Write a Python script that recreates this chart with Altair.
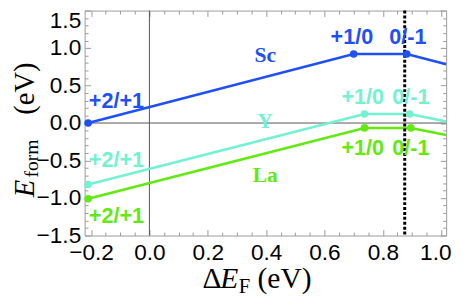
import altair as alt
import pandas as pd

# ---------------- data ----------------
x_domain = [-0.222, 1.017]
y_domain = [-1.5, 1.5]

series = ["Sc", "Y", "La"]
colors = ["#1f50f5", "#72f2d2", "#62ea10"]

sc_x = [-0.21, 0.70, 0.882, 1.017]
sc_y = [0.0, 0.92, 0.92, 0.785]
yy_x = [-0.21, 0.737, 0.892, 1.017]
yy_y = [-0.82, 0.12, 0.12, 0.02]
la_x = [-0.21, 0.737, 0.896, 1.017]
la_y = [-1.01, -0.065, -0.065, -0.16]

# transition-level labels
lev_text = ["+2/+1", "+1/0", "0/-1", "+2/+1", "+1/0", "0/-1", "+2/+1", "+1/0", "0/-1"]
lev_series = ["Sc", "Sc", "Sc", "Y", "Y", "Y", "La", "La", "La"]
lev_x = [-0.113, 0.694, 0.886, -0.113, 0.731, 0.896, -0.113, 0.731, 0.896]
lev_y = [0.29, 1.146, 1.146, -0.50, 0.347, 0.347, -1.245, -0.34, -0.34]

# element name labels
name_x = [0.397, 0.396, 0.397]
name_y = [0.904, 0.03, -0.69]

dashed_x = [0.875]
zero_x = [0.0]
zero_y = [0.0]

x_major = [-0.2, 0.0, 0.2, 0.4, 0.6, 0.8, 1.0]
x_minor = [-0.15, -0.1, -0.05, 0.05, 0.1, 0.15, 0.25, 0.3, 0.35, 0.45, 0.5, 0.55,
           0.65, 0.7, 0.75, 0.85, 0.9, 0.95]
y_major = [-1.5, -1.0, -0.5, 0.0, 0.5, 1.0, 1.5]
y_minor = [-1.4, -1.3, -1.2, -1.1, -0.9, -0.8, -0.7, -0.6, -0.4, -0.3, -0.2, -0.1,
           0.1, 0.2, 0.3, 0.4, 0.6, 0.7, 0.8, 0.9, 1.1, 1.2, 1.3, 1.4]

ytitle_parts = ["E", "form", "(eV)"]
xtitle_parts = ["\u0394", "E", "F", "(eV)"]

# ---------------- build ----------------
W, H = 368, 229
rows = []
for s, xs_, ys_ in zip(series, [sc_x, yy_x, la_x], [sc_y, yy_y, la_y]):
    for i, (a, b) in enumerate(zip(xs_, ys_)):
        rows.append({"series": s, "x": a, "y": b, "i": i})
df = pd.DataFrame(rows)
pts = df[df["i"] < 3]

lev = pd.DataFrame({"t": lev_text, "series": lev_series, "x": lev_x, "y": lev_y})
names = pd.DataFrame({"t": series, "series": series, "x": name_x, "y": name_y})

xs = alt.Scale(domain=x_domain, nice=False, zero=False)
ys = alt.Scale(domain=y_domain, nice=False, zero=False)
cscale = alt.Scale(domain=series, range=colors)
TICK = "#9a9a9a"
LBL = dict(labelFont="Liberation Sans", labelFontSize=23, labelColor="black")


def ax(orient, values, size, labels=False, pad=0, offset=None):
    kw = dict(orient=orient, values=values, tickSize=alt.ExprRef(str(-size)),
              tickColor=TICK, tickWidth=1, domain=False, grid=False, title=None,
              labels=labels)
    if labels:
        kw.update(LBL)
        kw.update(format=".1f", labelPadding=pad, labelFlush=False, labelOverlap=False)
        if offset is not None:
            kw.update(labelOffset=offset)
    return alt.Axis(**kw)


def line_layer(name, xaxis, yaxis):
    return alt.Chart(df[df["series"] == name]).mark_line(strokeWidth=2.6, clip=True).encode(
        x=alt.X("x:Q", scale=xs, axis=xaxis),
        y=alt.Y("y:Q", scale=ys, axis=yaxis),
        color=alt.Color("series:N", scale=cscale, legend=None),
        order="i:Q",
    )


top_label_shift = {"condition": {"test": "datum.value >= 1.49", "value": 10}, "value": 0}
right_label_shift = {"condition": {"test": "datum.value >= 0.99", "value": -6}, "value": 0}

l_sc = line_layer("Sc", ax("bottom", x_major, 6, True, 12, right_label_shift),
                  ax("left", y_major, 6, True, 10, top_label_shift))
l_y = line_layer("Y", ax("bottom", x_minor, 3.5), ax("left", y_minor, 3.5))
l_la = line_layer("La", ax("top", x_major, 6), ax("right", y_major, 6))

points = alt.Chart(pts).mark_circle(size=60, opacity=1).encode(
    x=alt.X("x:Q", scale=xs, axis=ax("top", x_minor, 3.5)),
    y=alt.Y("y:Q", scale=ys, axis=ax("right", y_minor, 3.5)),
    color=alt.Color("series:N", scale=cscale, legend=None),
)

hzero = alt.Chart(pd.DataFrame({"y": zero_y})).mark_rule(color="#555", strokeWidth=1).encode(
    y=alt.Y("y:Q", scale=ys, axis=None))
vzero = alt.Chart(pd.DataFrame({"x": zero_x})).mark_rule(color="#555", strokeWidth=1).encode(
    x=alt.X("x:Q", scale=xs, axis=None))
dashed = alt.Chart(pd.DataFrame({"x": dashed_x})).mark_rule(
    color="black", strokeWidth=3, strokeDash=[3, 2]).encode(
    x=alt.X("x:Q", scale=xs, axis=None))

lev_txt = alt.Chart(lev).mark_text(font="Liberation Sans", fontWeight="bold", fontSize=22,
                                   align="center", baseline="middle").encode(
    x=alt.X("x:Q", scale=xs, axis=None),
    y=alt.Y("y:Q", scale=ys, axis=None),
    text="t:N",
    color=alt.Color("series:N", scale=cscale, legend=None),
)
name_txt = alt.Chart(names).mark_text(font="Liberation Serif", fontWeight="bold", fontSize=22,
                                      align="center", baseline="middle").encode(
    x=alt.X("x:Q", scale=xs, axis=None),
    y=alt.Y("y:Q", scale=ys, axis=None),
    text="t:N",
    color=alt.Color("series:N", scale=cscale, legend=None),
)


def txt(s, px, py, size, angle=0, italic=False):
    return alt.Chart(pd.DataFrame({"t": [s]})).mark_text(
        font="Liberation Serif", fontSize=size, fontStyle="italic" if italic else "normal",
        align="left", baseline="alphabetic", angle=angle, color="black").encode(
        text="t:N", x=alt.value(px - 86), y=alt.value(py - 8))


ytitle = [
    txt(ytitle_parts[0], 34, 198, 29, 270, True),
    txt(ytitle_parts[1], 39, 178, 20, 270),
    txt(ytitle_parts[2], 34, 114, 29, 270),
]
xtitle = [
    txt(xtitle_parts[0], 206, 290, 30),
    txt(xtitle_parts[1], 224, 290, 30, 0, True),
    txt(xtitle_parts[2], 243, 295, 21),
    txt(xtitle_parts[3], 262, 290, 30),
]

chart = alt.layer(
    hzero, vzero, l_sc, l_y, l_la, dashed, points, lev_txt, name_txt, *ytitle, *xtitle
).resolve_axis(x="independent", y="independent").properties(
    width=W, height=H,
    autosize=alt.AutoSizeParams(type="none"),
    padding={"left": 78, "top": 0, "right": 9, "bottom": 62},
).configure_view(stroke=TICK, strokeWidth=1)

chart.save("out.html", embed_options={"renderer": "svg", "actions": False})
